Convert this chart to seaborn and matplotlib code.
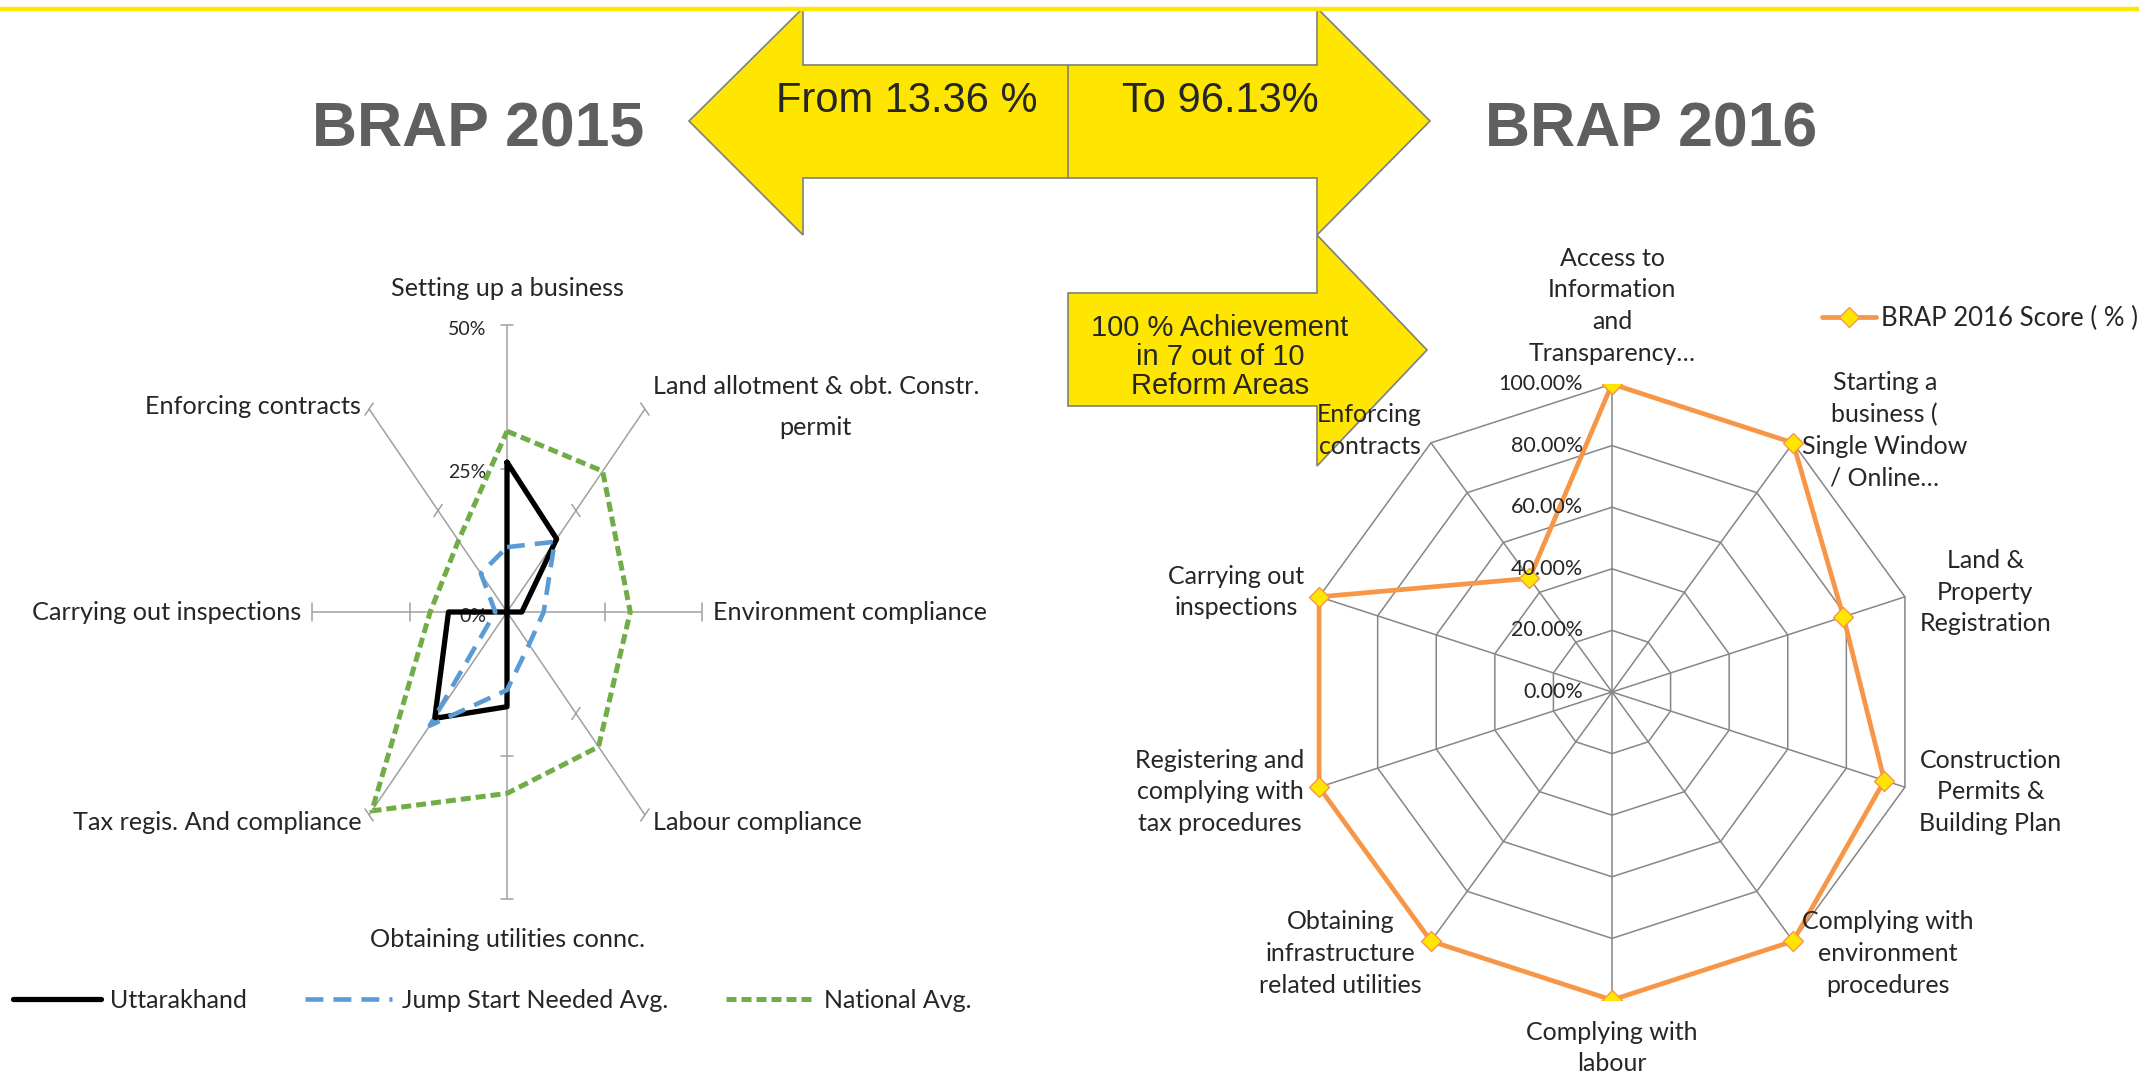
import numpy as np
import pandas as pd
import matplotlib
matplotlib.use("Agg")
import matplotlib.pyplot as plt
from matplotlib.patches import Polygon
import seaborn as sns

# ---------------- data ----------------
areas_2015 = ["Setting up a business", "Land allotment & obt. Constr.\npermit",
              "Environment compliance", "Labour compliance", "Obtaining utilities connc.",
              "Tax regis. And compliance", "Carrying out inspections", "Enforcing contracts"]
uttarakhand = [26.1, 18.0, 3.8, 0.0, 16.5, 26.2, 15.0, 0.0]
jump_start_avg = [11.3, 17.3, 9.4, 8.0, 13.6, 28.0, 3.0, 9.5]
national_avg = [31.5, 34.7, 31.6, 33.2, 31.6, 49.0, 19.7, 17.6]
ticks_2015 = [0, 25, 50]

areas_2016 = ["Access to\nInformation\nand\nTransparency…",
              "Starting a\nbusiness (\nSingle Window\n/ Online…",
              "Land &\nProperty\nRegistration",
              "Construction\nPermits &\nBuilding Plan",
              "Complying with\nenvironment\nprocedures",
              "Complying with\nlabour",
              "Obtaining\ninfrastructure\nrelated utilities",
              "Registering and\ncomplying with\ntax procedures",
              "Carrying out\ninspections",
              "Enforcing\ncontracts"]
score_2016 = [100, 100, 79, 93, 100, 100, 100, 100, 100, 45.6]
ticks_2016 = [0, 20, 40, 60, 80, 100]

YELLOW = "#FFE600"
ORANGE = "#F79646"

sns.set_style("white")
plt.rcParams["font.family"] = ["Lato", "DejaVu Sans"]


def radar_frame(values, name):
    n = len(values)
    ang = np.arange(n + 1) * 2 * np.pi / n
    v = np.append(values, values[0])
    return pd.DataFrame({"series": name, "x": v * np.sin(ang), "y": v * np.cos(ang)})


W, H = 2139, 1074
fig = plt.figure(figsize=(W / 100, H / 100), dpi=100)


def px_axes(left, top, width, height):
    return fig.add_axes([left / W, 1 - (top + height) / H, width / W, height / H])


# ---------------- background: banner + arrows ----------------
bg = px_axes(0, 0, W, H)
bg.set_xlim(0, W)
bg.set_ylim(H, 0)
bg.axis("off")
bg.axhline(9, color=YELLOW, lw=3.2)

arrow1 = [(689, 121), (803, 8), (803, 65), (1317, 65), (1317, 8), (1430, 121),
          (1317, 235), (1317, 178), (803, 178), (803, 235)]
arrow2 = [(1068, 293), (1317, 293), (1317, 235), (1427, 350), (1317, 466),
          (1317, 406), (1068, 406)]
for pts in (arrow1, arrow2):
    bg.add_patch(Polygon(pts, closed=True, facecolor=YELLOW, edgecolor="#7F7F7F", lw=1.2))
bg.plot([1068, 1068], [65, 178], color="#7F7F7F", lw=1.2)

bg.text(907, 101, "From 13.36 %", ha="center", va="center", fontsize=30, family="Liberation Sans")
bg.text(1220, 101, "To 96.13%", ha="center", va="center", fontsize=30, family="Liberation Sans")
bg.text(1220, 357, "100 % Achievement\nin 7 out of 10\nReform Areas", ha="center", va="center",
        fontsize=21, family="Liberation Sans", linespacing=1.05)
bg.text(478, 130, "BRAP 2015", ha="center", va="center", fontsize=45, weight="bold",
        color="#5F5F5F", family="Liberation Sans")
bg.text(1651, 130, "BRAP 2016", ha="center", va="center", fontsize=45, weight="bold",
        color="#5F5F5F", family="Liberation Sans")

# ---------------- BRAP 2015 radar (squashed 8-axis chart) ----------------
ax1 = px_axes(507 - 195, 612 - 287, 390, 574)
ax1.set_xlim(-50, 50)
ax1.set_ylim(-50, 50)
ax1.axis("off")
ax1.patch.set_alpha(0)

n1 = len(areas_2015)
rmax = ticks_2015[-1]
for k in range(n1):
    a = k * 2 * np.pi / n1
    s, c = np.sin(a), np.cos(a)
    ax1.plot([0, rmax * s], [0, rmax * c], color="#A0A0A0", lw=1.1, zorder=1)
    for t in ticks_2015[1:]:
        ax1.plot([t * s - 1.5 * c, t * s + 1.5 * c], [t * c + 1.5 * s, t * c - 1.5 * s],
                 color="#A0A0A0", lw=1.1, zorder=1, clip_on=False)
    if abs(c) > 0.9:
        off = (0, 26 if c > 0 else -29)
        ha = "center"
    else:
        off = (8 * s, 1.5 if c > 0.5 else 8 * c)
        ha = "left" if s > 0 else "right"
    ax1.annotate(areas_2015[k], (rmax * s, rmax * c), xytext=off, textcoords="offset points",
                 ha=ha, va="center", fontsize=18.2, linespacing=1.95, multialignment="center",
                 annotation_clip=False)

for t in ticks_2015:
    ax1.annotate(f"{t}%", (0, t), xytext=(-15, -3), textcoords="offset points",
                 ha="right", va="center", fontsize=14, color="#262626", annotation_clip=False)

df15 = pd.concat([radar_frame(uttarakhand, "Uttarakhand"),
                  radar_frame(jump_start_avg, "Jump Start Needed Avg."),
                  radar_frame(national_avg, "National Avg.")])
styles15 = {
    "Uttarakhand": dict(color="black", lw=3.8, linestyle="-"),
    "Jump Start Needed Avg.": dict(color="#5B9BD5", lw=3.3, linestyle=(0, (3.9, 2.2))),
    "National Avg.": dict(color="#70AD47", lw=3.6, linestyle=(0, (2.0, 1.0))),
}
for name, st in styles15.items():
    sns.lineplot(data=df15[df15["series"] == name], x="x", y="y", sort=False, estimator=None,
                 label=name, ax=ax1, zorder=3, **st)
ax1.legend(loc="center left", bbox_to_anchor=(13 / W, 1 - 1000 / H), bbox_transform=fig.transFigure,
           ncol=3, frameon=False, fontsize=18, handlelength=3.5, handletextpad=0.4,
           columnspacing=2.3, borderpad=0, borderaxespad=0)

# ---------------- BRAP 2016 radar (10 axes) ----------------
R = 308
ax2 = px_axes(1612 - R, 692 - R, 2 * R, 2 * R)
ax2.set_xlim(-100, 100)
ax2.set_ylim(-100, 100)
ax2.axis("off")
ax2.patch.set_alpha(0)

n2 = len(areas_2016)
ang2 = np.arange(n2 + 1) * 2 * np.pi / n2
for t in ticks_2016[1:]:
    ax2.plot(t * np.sin(ang2), t * np.cos(ang2), color="#868686", lw=1.1, zorder=1)
for k in range(n2):
    s, c = np.sin(ang2[k]), np.cos(ang2[k])
    ax2.plot([0, 100 * s], [0, 100 * c], color="#868686", lw=1.1, zorder=1)
    if abs(c) > 0.99:
        off, va, ha = ((0, 14), "bottom", "center") if c > 0 else ((0, -15), "top", "center")
    else:
        off, va = (11 * s, 11 * c), "center"
        ha = "left" if s > 0 else "right"
    ax2.annotate(areas_2016[k], (100 * s, 100 * c), xytext=off, textcoords="offset points",
                 ha=ha, va=va, fontsize=18, linespacing=1.45, multialignment="center",
                 annotation_clip=False, zorder=5)

for t in ticks_2016:
    ax2.annotate(f"{t:.2f}%", (0, t), xytext=(-21, 0), textcoords="offset points",
                 ha="right", va="center", fontsize=15.5, annotation_clip=False, zorder=5)

df16 = radar_frame(score_2016, "BRAP 2016 Score ( % )")
sns.lineplot(data=df16, x="x", y="y", sort=False, estimator=None, ax=ax2,
             label="BRAP 2016 Score ( % )", color=ORANGE, lw=3.4, marker="D", markersize=10,
             markerfacecolor=YELLOW, markeredgecolor=ORANGE, markeredgewidth=1.0, zorder=4)
ax2.legend(loc="center left", bbox_to_anchor=(1822 / W, 1 - 318 / H), bbox_transform=fig.transFigure,
           frameon=False, fontsize=18.5, handlelength=2.1, handletextpad=0.2,
           borderpad=0, borderaxespad=0)

fig.savefig("out.png", dpi=100, facecolor="white")
